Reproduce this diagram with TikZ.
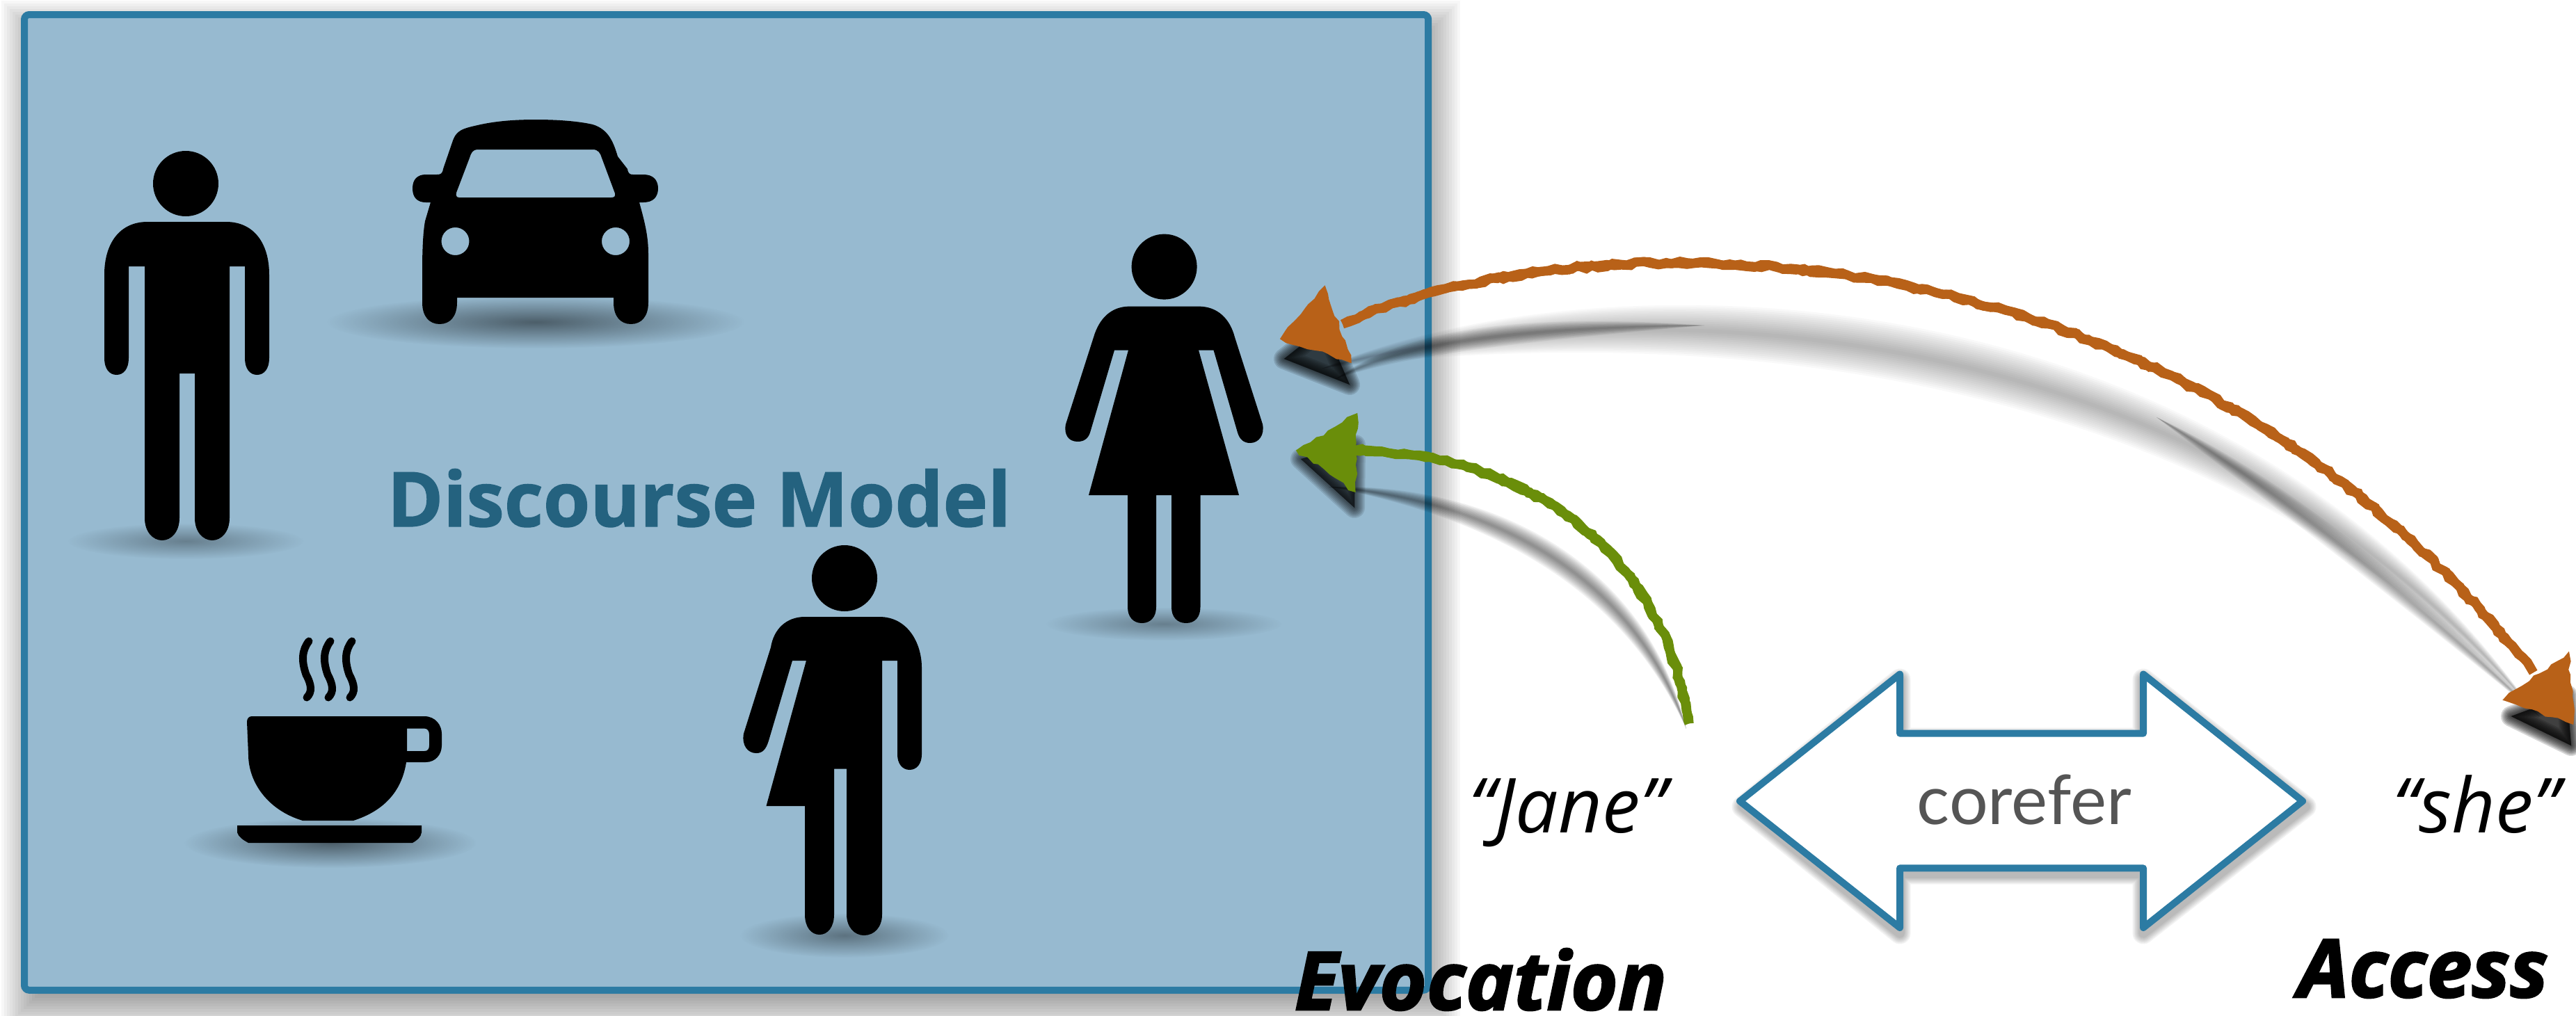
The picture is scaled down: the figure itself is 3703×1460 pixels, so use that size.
\documentclass[tikz,border=0pt]{standalone}
\usepackage{fontspec}
\usepackage{graphicx}
\usetikzlibrary{calc,fadings,decorations.pathmorphing}
\setmainfont{Open Sans}
\newfontfamily\latofont{Lato}
\newfontfamily\demifont{Open Sans}[FakeBold=1.2]
\newfontfamily\heavyfont{Open Sans}[FakeBold=2.2]
\definecolor{boxfill}{RGB}{151,186,208}
\definecolor{boxline}{RGB}{44,123,163}
\definecolor{modeltext}{RGB}{36,98,127}
\definecolor{orangeink}{RGB}{184,97,24}
\definecolor{greenink}{RGB}{106,142,10}
\definecolor{greyink}{RGB}{85,85,85}
\tikzfading[name=softspot, inner color=transparent!30, outer color=transparent!100]
\tikzset{
  figure/.style={fill=black},
  roughpath/.style={decorate, decoration={random steps, segment length=3pt, amplitude=.8pt}},
  quoteword/.style={font=\fontsize{31}{31}\selectfont\itshape, anchor=base west, inner sep=0pt, text=black},
  titleword/.style={font=\fontsize{33}{33}\selectfont\heavyfont\bfseries\itshape, anchor=base west, inner sep=0pt, text=black},
  floorshadow/.style={fill=black, path fading=softspot}
}
% soft lens: start, c1, c2, end, c1 offset, c2 offset, layers, opacity
\newcommand\softlens[8]{%
  \foreach \k in {1,...,#7}{%
    \pgfmathsetmacro\f{\k/#7}%
    \fill[black,opacity=#8] (#1) .. controls ($(#2)+\f*(#5)$) and ($(#3)+\f*(#6)$) .. (#4)
       .. controls ($(#3)-\f*(#6)$) and ($(#2)-\f*(#5)$) .. (#1) -- cycle;
  }%
}
\begin{document}
\begin{tikzpicture}[x=0.01cm,y=-0.01cm]
\pgfmathsetseed{7}
\useasboundingbox (0,0) rectangle (3703,1460);
% box shadow
\foreach \d in {-40,-36,...,40}{
  \fill[black,opacity=.03] ({42-\d},{41-\d}) rectangle ({2059+\d},{1443+\d});
}
\node[draw=boxline, fill=boxfill, line width=1mm, rectangle, rounded corners=2pt, minimum width=20.17cm, minimum height=14.02cm, inner sep=0pt, anchor=north west] (model) at (30,16) {};

% floor shadows
\fill[floorshadow, opacity=.45] (267,778) ellipse (170 and 26);
\fill[floorshadow, opacity=.7] (770,463) ellipse (300 and 38);
\fill[floorshadow, opacity=.7] (475,1212) ellipse (210 and 36);
\fill[floorshadow, opacity=.55] (1214,1345) ellipse (150 and 32);
\fill[floorshadow, opacity=.45] (1673,897) ellipse (170 and 24);

% man
\fill[figure] (267,264) ellipse (47 and 47);
\fill[figure] (212,319) -- (325,319) .. controls (365,319) and (387,350) .. (387,395)
  -- (387,515) .. controls (387,530) and (380,539) .. (369.5,539) .. controls (359,539) and (352,530) .. (352,515)
  -- (352,383) -- (330,383) -- (330,745) .. controls (330,765) and (318,777) .. (305,777) .. controls (292,777) and (280,765) .. (280,745)
  -- (280,537) -- (258,537) -- (258,745) .. controls (258,765) and (246,777) .. (233,777) .. controls (220,777) and (208,765) .. (208,745)
  -- (208,383) -- (185,383) -- (185,515) .. controls (185,530) and (178,539) .. (167.5,539) .. controls (157,539) and (150,530) .. (150,515)
  -- (150,395) .. controls (150,350) and (172,319) .. (212,319) -- cycle;

% car
\fill[figure, even odd rule]
  (770,172) .. controls (800,172) and (830,174) .. (852,179) .. controls (875,186) and (882,205) .. (888,225)
  -- (902,243) .. controls (903,250) and (906,251) .. (910,251) -- (925,251) .. controls (938,251) and (946,258) .. (946,271)
  .. controls (946,284) and (938,291) .. (925,291) -- (919,291) .. controls (927,320) and (932,340) .. (932,365)
  -- (932,435) .. controls (932,455) and (922,466) .. (907,466) .. controls (892,466) and (882,455) .. (882,435) -- (882,428)
  -- (657,428) -- (657,435) .. controls (657,455) and (647,466) .. (632,466) .. controls (617,466) and (607,455) .. (607,435)
  -- (607,390) .. controls (607,360) and (608,335) .. (611,318) -- (619,291) -- (612,291) .. controls (600,291) and (593,284) .. (593,271)
  .. controls (593,258) and (600,251) .. (612,251) -- (628,251) .. controls (633,251) and (636,250) .. (637,243)
  -- (650,205) .. controls (656,186) and (665,185) .. (691,179) .. controls (715,174) and (740,172) .. (770,172) -- cycle
  (686,215) -- (852,215) .. controls (860,215) and (863,220) .. (865,227) -- (884,278) .. controls (885,282) and (883,284) .. (879,284)
  -- (660,284) .. controls (656,284) and (655,281) .. (656,277) -- (675,227) .. controls (677,220) and (680,215) .. (686,215) -- cycle
  (654.5,347) ellipse (20 and 20)
  (885,347) ellipse (20 and 20);

% cup
\fill[figure, even odd rule]
  (362,1030) -- (610,1030) .. controls (626,1030) and (635,1043) .. (635,1055) -- (635,1072) .. controls (635,1085) and (626,1096) .. (612,1096)
  -- (584,1096) .. controls (578,1135) and (555,1165) .. (508,1180) -- (435,1180) .. controls (385,1165) and (357,1125) .. (357,1085)
  -- (355,1038) .. controls (355,1033) and (358,1030) .. (362,1030) -- cycle
  (585,1047.5) -- (610,1047.5) .. controls (615,1047.5) and (617,1052) .. (617,1056) -- (617,1072) .. controls (617,1077) and (615,1080) .. (610,1080) -- (585,1080) -- cycle;
\fill[figure] (341,1187) -- (606,1187) -- (606,1197) .. controls (605,1204) and (600,1208) .. (593,1212) -- (357,1212) .. controls (350,1208) and (343,1204) .. (341,1197) -- cycle;
\foreach \s in {0,31,62}{
  \draw[black, line width=.11cm, line cap=round, xshift=\s*0.01cm]
    (444,922) .. controls (434,935) and (433,950) .. (440,970) .. controls (448,985) and (449,995) .. (441,1003);
}

% androgynous figure
\fill[figure] (1214,831.5) ellipse (47 and 47.5);
\fill[figure] (1157,887) -- (1264,887) .. controls (1305,887) and (1325,925) .. (1325,960)
  -- (1325,1085) .. controls (1325,1098) and (1318,1107) .. (1307.5,1107) .. controls (1297,1107) and (1290,1098) .. (1290,1085)
  -- (1290,950) -- (1268,950) -- (1268,1315) .. controls (1268,1333) and (1257,1345) .. (1242,1345) .. controls (1228,1345) and (1217,1333) .. (1217,1315)
  -- (1217,1105.5) -- (1199,1105.5) -- (1199,1315) .. controls (1199,1333) and (1190,1344) .. (1178,1344) .. controls (1166,1344) and (1157,1333) .. (1157,1315)
  -- (1157,1159) -- (1101.5,1159) -- (1159,950) -- (1139,950) -- (1105,1065) .. controls (1101,1078) and (1096,1083) .. (1087,1083)
  .. controls (1075,1083) and (1066,1072) .. (1069,1055) -- (1108,931) .. controls (1112,905) and (1130,887) .. (1157,887) -- cycle;

% woman
\fill[figure] (1673.6,383.6) ellipse (47 and 47);
\fill[figure] (1624,440.6) -- (1723,440.6) .. controls (1750,440.6) and (1768,458) .. (1775,485)
  -- (1815,610) .. controls (1818,625) and (1810,637) .. (1797,637) .. controls (1788,637) and (1782,632) .. (1779,622)
  -- (1744.5,503.5) -- (1723,503.5) -- (1781,712) -- (1725.5,712) -- (1725.5,873) .. controls (1725.5,887) and (1718,896) .. (1705,896)
  .. controls (1692,896) and (1684,887) .. (1684,873) -- (1684,712) -- (1662,712) -- (1662,873) .. controls (1662,887) and (1654,896) .. (1641.5,896)
  .. controls (1629,896) and (1621,887) .. (1621,873) -- (1621,712) -- (1565,712) -- (1622,503.5) -- (1602,503.5) -- (1567,622)
  .. controls (1564,631) and (1558,635) .. (1549,635) .. controls (1536,635) and (1529,625) .. (1532,610) -- (1572,485)
  .. controls (1580,458) and (1597,440.6) .. (1624,440.6) -- cycle;

% texts
\node[font=\fontsize{31}{31}\selectfont\demifont\bfseries, text=modeltext, anchor=base west, inner sep=0pt] (modeltitle) at (556,757) {Discourse Model};
\node[quoteword] (jane) at (2111,1197) {“Jane”};
\node[quoteword] (she) at (3439,1197) {“she”};

% double arrow
\foreach \d in {1,...,6}{
  \draw[black, opacity=.05, line width={(1+\d*.35)*1mm}, line join=round] (2505,1160) -- (2731,977) -- (2731,1062) -- (3081,1062) -- (3081,977) -- (3314,1160) -- (3081,1342) -- (3081,1256) -- (2731,1256) -- (2731,1342) -- cycle;
}
\draw[boxline, fill=white, line width=1mm, line join=round] (2501,1152) -- (2731,969.5) -- (2731,1054.6) -- (3081,1054.6) -- (3081,969.5) -- (3310,1152) -- (3081,1334) -- (3081,1248.4) -- (2731,1248.4) -- (2731,1334) -- cycle;
\node[font=\fontsize{28}{28}\selectfont\latofont, text=greyink, anchor=base west, inner sep=0pt] (corefer) at (2755,1185.5) {corefer};

% connector coordinates
\coordinate (orangeHead) at (1930,466);
\coordinate (orangeC1) at (2250,320);
\coordinate (orangeC2) at (3100,280);
\coordinate (orangeTail) at (3640,965);
\coordinate (greenHead) at (1945,648);
\coordinate (greenC1) at (2150,650);
\coordinate (greenC2) at (2380,750);
\coordinate (greenTail) at (2428,1040);

% shadows of the connectors
\coordinate (os1) at (1900,530); \coordinate (os2) at (2300,420); \coordinate (os3) at (3150,420); \coordinate (os4) at (3640,1020);
\softlens{os1}{os2}{os3}{os4}{0,-60}{42,-42}{14}{.022}
\coordinate (ot1) at (3100,600); \coordinate (ot2) at (3250,690); \coordinate (ot3) at (3450,840); \coordinate (ot4) at (3650,1030);
\softlens{ot1}{ot2}{ot3}{ot4}{12,-15}{14,-14}{8}{.05}
\coordinate (ol1) at (1920,545); \coordinate (ol2) at (2020,490); \coordinate (ol3) at (2200,470); \coordinate (ol4) at (2450,468);
\softlens{ol1}{ol2}{ol3}{ol4}{0,-20}{0,-20}{8}{.05}
\coordinate (gs1) at (1910,700); \coordinate (gs2) at (2150,720); \coordinate (gs3) at (2350,830); \coordinate (gs4) at (2424,1048);
\softlens{gs1}{gs2}{gs3}{gs4}{0,-26}{18,-18}{10}{.055}
% arrow head shadows
\foreach \w in {2,6,...,30}{
  \draw[black,fill=black,opacity=.13,line width=\w*0.01cm,line join=round] (1846,516) -- (1904,470) -- (1940,553) -- cycle;
  \draw[black,fill=black,opacity=.11,line width=\w*0.01cm,line join=round] (1870,660) -- (1948,640) -- (1947,730) -- cycle;
  \draw[black,fill=black,opacity=.16,line width=\w*0.01cm,line join=round] (3610,1030) -- (3690,1000) -- (3696,1072) -- cycle;
}

% connectors
\foreach \rep in {1,2}{
  \draw[orangeink, line width=.13cm, roughpath] (orangeHead) .. controls (orangeC1) and (orangeC2) .. (orangeTail);
  \draw[greenink, line width=.13cm, roughpath] (greenHead) .. controls (greenC1) and (greenC2) .. (greenTail);
}
\fill[orangeink, draw=orangeink, line width=.03cm, roughpath] (1842,487) -- (1904,413) -- (1941,520) -- cycle;
\fill[greenink, draw=greenink, line width=.03cm, roughpath] (1865,648) -- (1950,596) -- (1947,706) -- cycle;
\fill[orangeink, draw=orangeink, line width=.03cm, roughpath] (3692,940) -- (3698,1040) -- (3600,1006) -- cycle;

\node[titleword] (evocation) at (1860,1452) {Evocation};
\node[titleword] (access) at (3303,1434) {Access};
\end{tikzpicture}
\end{document}
